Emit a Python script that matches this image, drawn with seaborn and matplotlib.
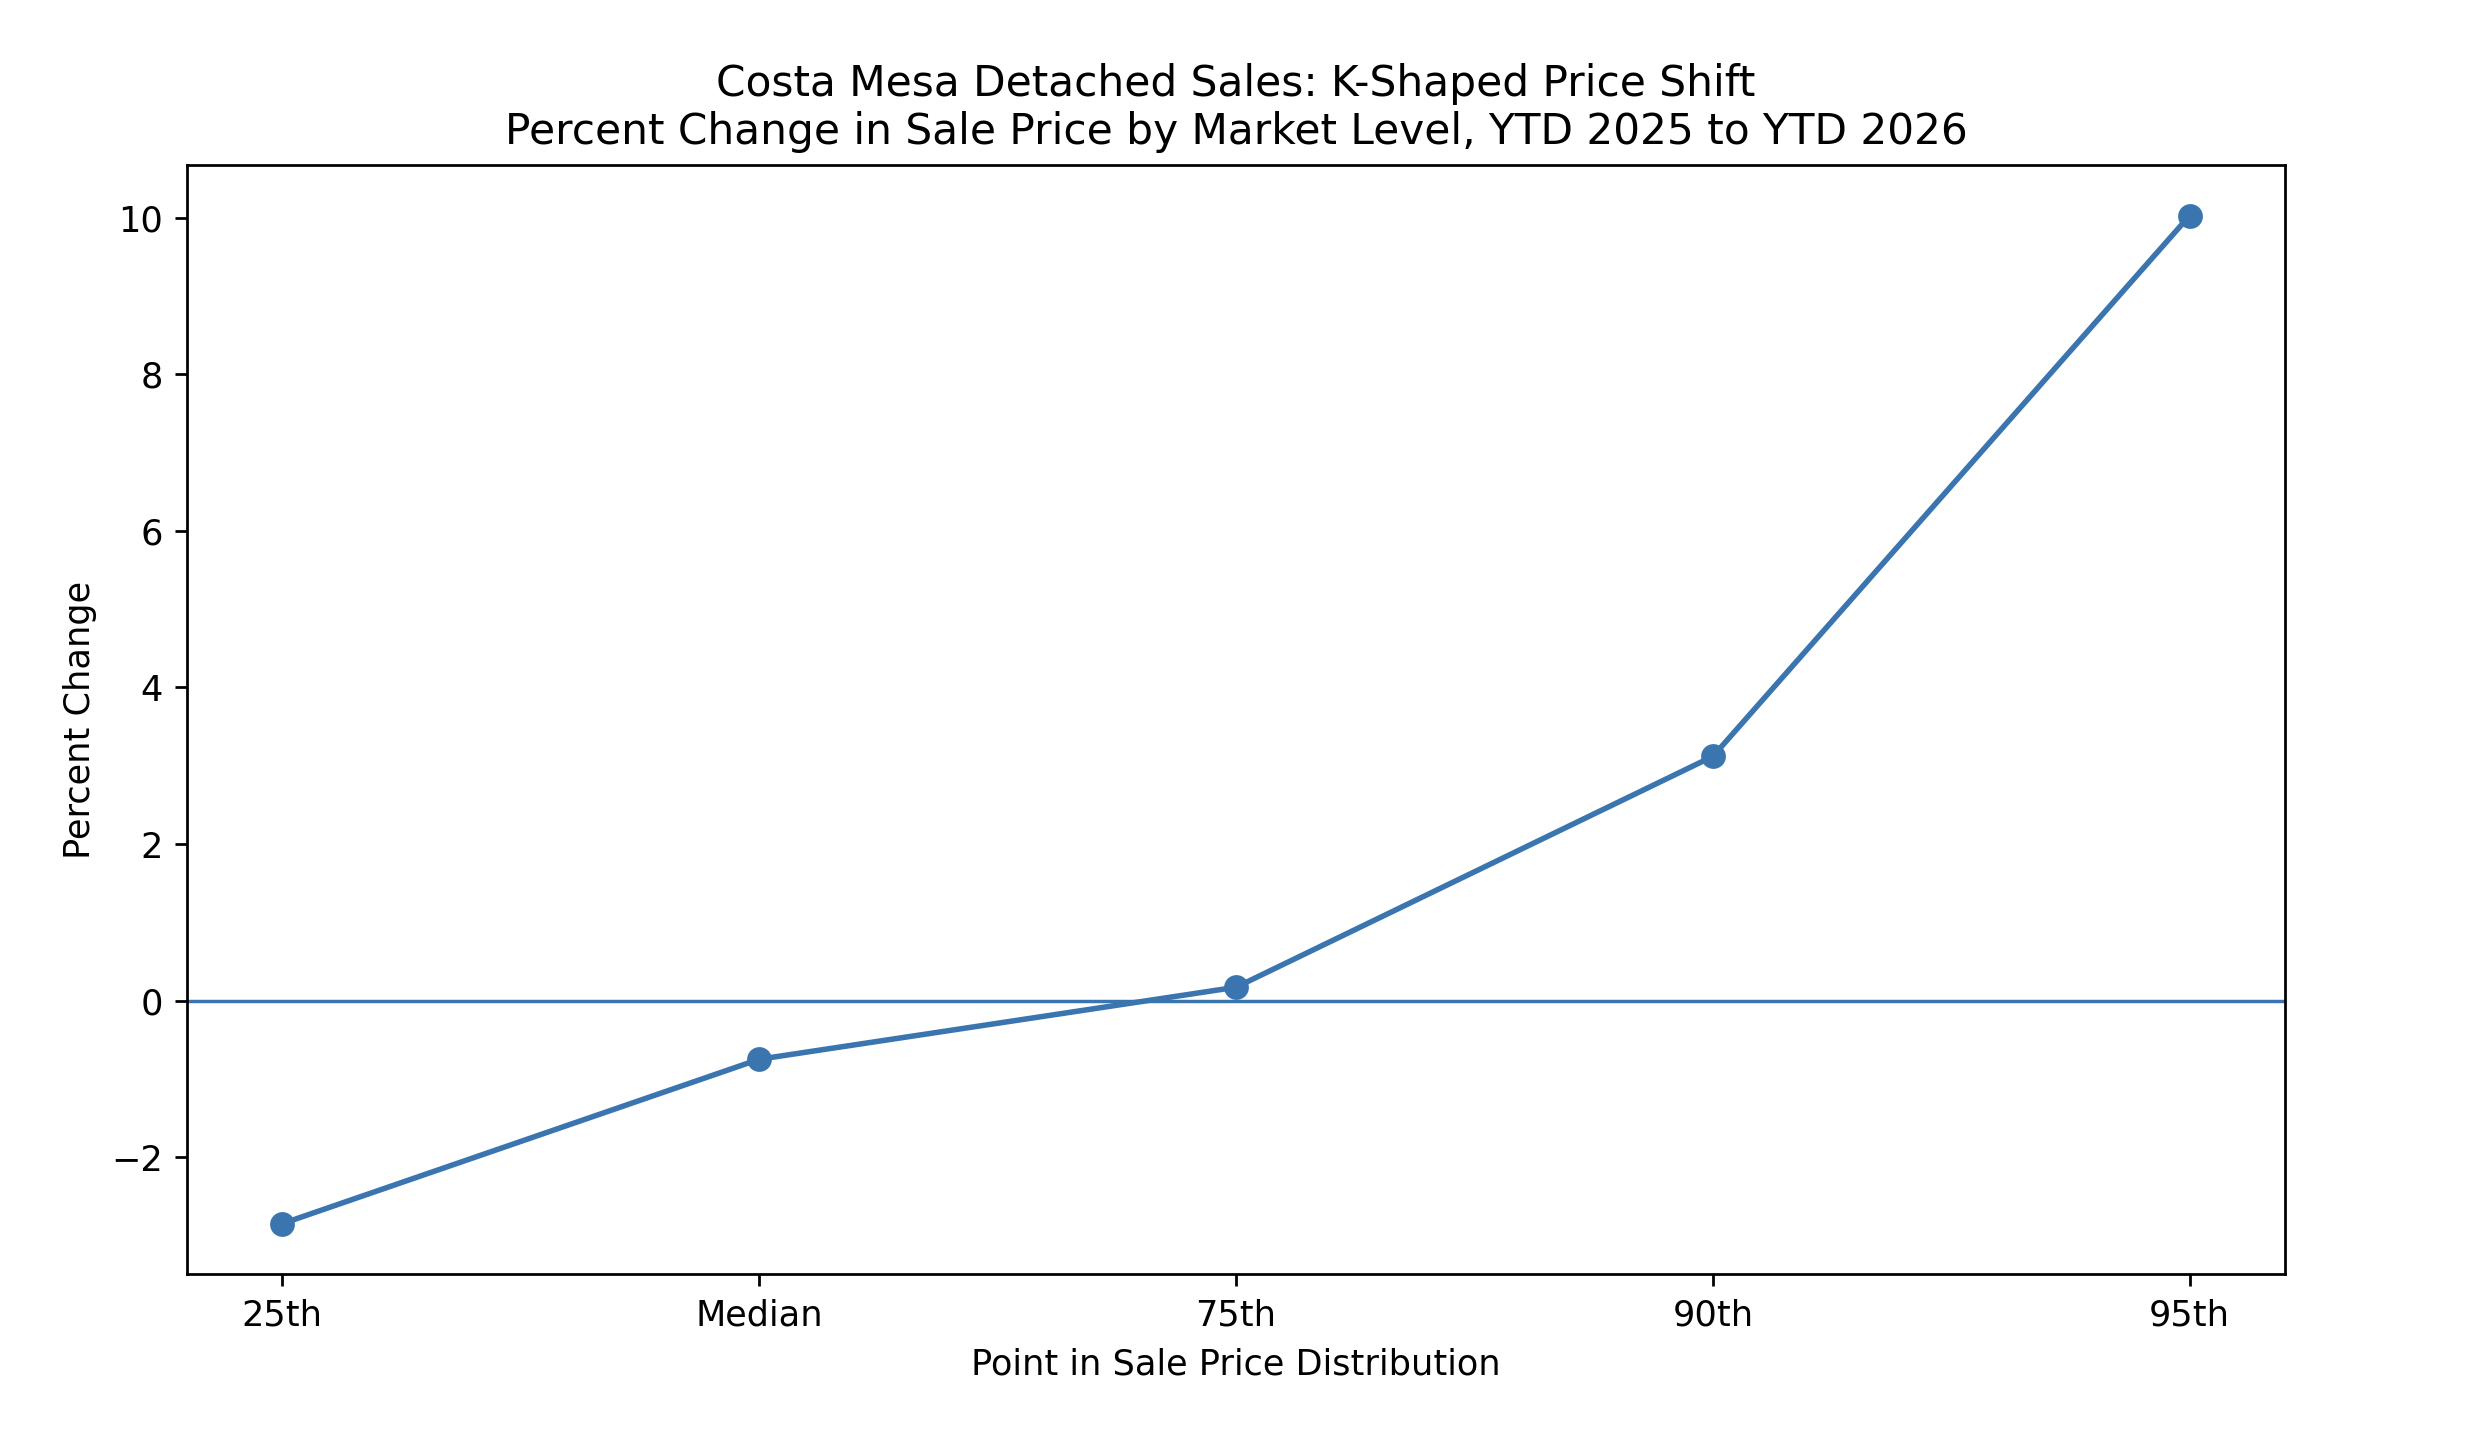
import matplotlib
matplotlib.use("Agg")
import matplotlib.pyplot as plt
import seaborn as sns
import pandas as pd

levels = ["25th", "Median", "75th", "90th", "95th"]
pct_change = [-2.85, -0.75, 0.17, 3.12, 10.03]

title = "Costa Mesa Detached Sales: K-Shaped Price Shift\nPercent Change in Sale Price by Market Level, YTD 2025 to YTD 2026"
xlabel = "Point in Sale Price Distribution"
ylabel = "Percent Change"

color = "#3a75af"

df = pd.DataFrame({"level": levels, "pct": pct_change})
df["pos"] = range(len(levels))

fig = plt.figure(figsize=(10, 1436 / 248), dpi=248)
ax = fig.add_axes([0.0754, 0.1128, 0.9214 - 0.0754, 0.885 - 0.1128])

sns.lineplot(data=df, x="pos", y="pct", ax=ax, color=color, marker="o",
             markersize=7.2, markeredgewidth=0, linewidth=1.6)
ax.axhline(0, color=color, linewidth=1)

ax.set_xticks(df["pos"])
ax.set_xticklabels(levels)
ax.tick_params(labelsize=10.2)
ax.margins(x=0.05, y=0.05)
ax.set_title(title, fontsize=12.25)
ax.set_xlabel(xlabel, fontsize=10.2, labelpad=4.5)
ax.set_ylabel(ylabel, fontsize=10.2)

fig.savefig("out.png", dpi=248)
